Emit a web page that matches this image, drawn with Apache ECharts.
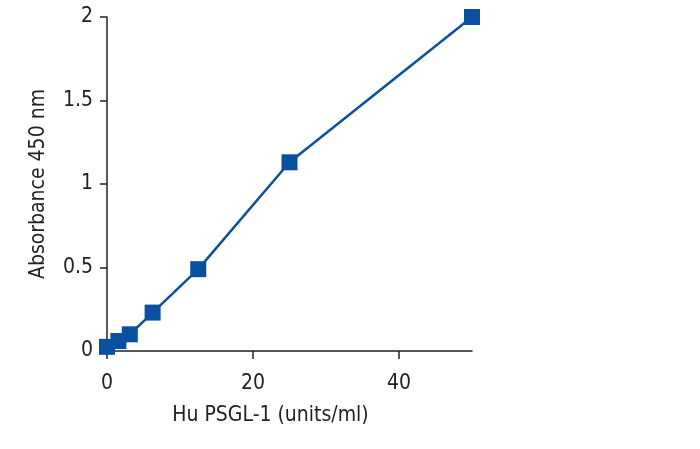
<!DOCTYPE html>
<html>
<head>
<meta charset="utf-8">
<script src="https://cdn.jsdelivr.net/npm/echarts@6/dist/echarts.min.js"></script>
<style>html,body{margin:0;padding:0;background:#fff}#c{width:700px;height:449px}</style>
</head>
<body>
<div id="c"></div>
<script>
const concentrations = [0, 1.56, 3.125, 6.25, 12.5, 25, 50];
const absorbance = [0.025, 0.06, 0.1, 0.23, 0.49, 1.13, 2.0];
const xTicks = [0, 20, 40];
const yTicks = [0, 0.5, 1, 1.5, 2];

const font = '"DejaVu Sans Condensed", "Liberation Sans Narrow", sans-serif';
const fs = 21;
const chart = echarts.init(document.getElementById('c'));
chart.setOption({
  animation: false,
  grid: {left: 107, right: 228, top: 17, bottom: 98},
  xAxis: {
    type: 'value', min: 0, max: 50, interval: 20,
    name: 'Hu PSGL-1 (units/ml)', nameLocation: 'middle', nameGap: 54,
    nameTextStyle: {fontFamily: font, fontSize: fs, color: '#222', padding: [0, 38, 0, 0]},
    axisLine: {show: true, lineStyle: {color: '#222', width: 1.5}},
    axisTick: {show: true, length: 8, customValues: xTicks, lineStyle: {color: '#222', width: 1.5}},
    axisLabel: {fontFamily: font, fontSize: fs, color: '#222', margin: 22, customValues: xTicks},
    splitLine: {show: false}
  },
  yAxis: {
    type: 'value', min: 0, max: 2, interval: 0.5,
    name: 'Absorbance 450 nm', nameLocation: 'middle', nameGap: 58,
    nameTextStyle: {fontFamily: font, fontSize: fs, color: '#222'},
    axisLine: {show: true, lineStyle: {color: '#222', width: 1.5}},
    axisTick: {show: true, length: 7, customValues: yTicks, lineStyle: {color: '#222', width: 1.5}},
    axisLabel: {fontFamily: font, fontSize: fs, color: '#222', margin: 14, customValues: yTicks},
    splitLine: {show: false}
  },
  series: [{
    type: 'line',
    data: concentrations.map((c, i) => [c, absorbance[i]]),
    symbol: 'rect', symbolSize: 16,
    lineStyle: {color: '#0a50a0', width: 2.5},
    itemStyle: {color: '#0a50a0'},
    clip: false
  }]
});
</script>
</body>
</html>
